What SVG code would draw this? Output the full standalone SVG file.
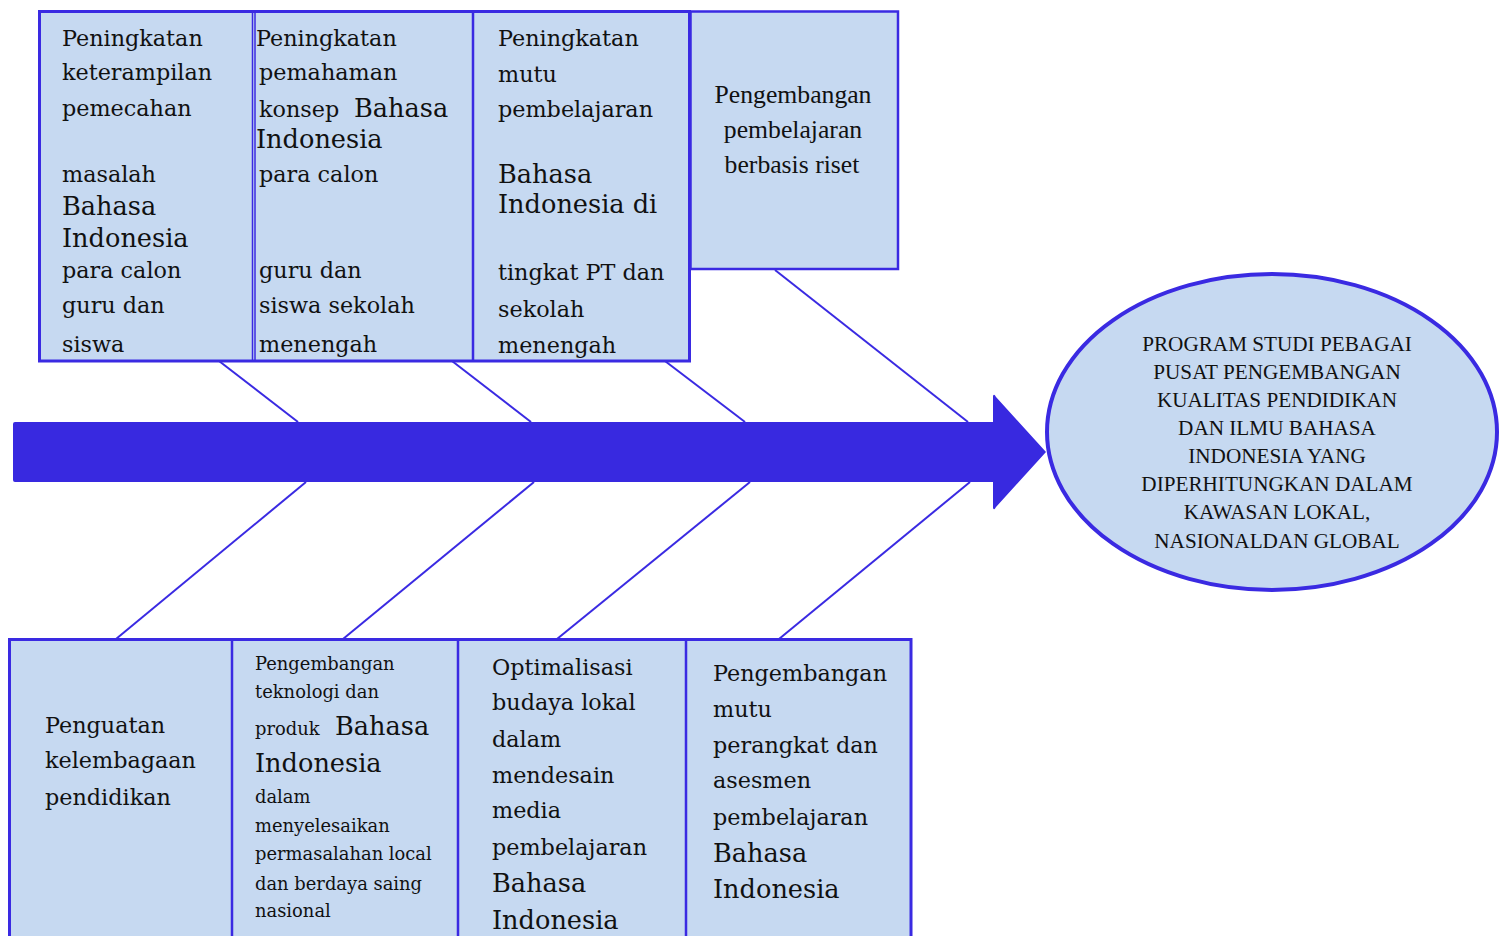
<svg xmlns="http://www.w3.org/2000/svg" width="1499" height="936" viewBox="0 0 1499 936">
<style>
.box{fill:#C6D9F1;stroke:#3A2AE2;stroke-width:3}
.div{stroke:#3A2AE2;stroke-width:2.5;fill:none}
.bone{stroke:#3A2AE2;stroke-width:2;fill:none}
.t{font-family:"DejaVu Serif","Liberation Serif",serif;font-size:22.3px;fill:#111}
.b{font-size:25.6px}
.s{font-size:17.9px}
.e{font-family:"Liberation Serif","Times New Roman",serif;font-size:21.2px;fill:#111;text-anchor:middle}
.r{font-family:"Liberation Serif","Times New Roman",serif;font-size:25.7px;fill:#111;text-anchor:middle}
</style>
<rect width="1499" height="936" fill="#fff"/>
<g id="connectors">
<line class="bone" x1="219" y1="361" x2="298" y2="422"/>
<line class="bone" x1="452" y1="361" x2="531" y2="422"/>
<line class="bone" x1="665" y1="361" x2="745" y2="422"/>
<line class="bone" x1="775" y1="270" x2="968" y2="422"/>
<line class="bone" x1="306" y1="482" x2="116" y2="639"/>
<line class="bone" x1="534" y1="482" x2="343" y2="639"/>
<line class="bone" x1="750" y1="482" x2="557" y2="639"/>
<line class="bone" x1="970" y1="482" x2="779" y2="639"/>
</g>
<g id="spine">
<path d="M15,422 H993 V396 Q994,393 996,397 L1046,452 L996,507 Q994,511 993,508 V482 H15 Q13,482 13,480 V424 Q13,422 15,422 Z" fill="#3829E0"/>
</g>
<g id="head">
<ellipse cx="1272" cy="432" rx="225" ry="158" fill="#C6D9F1" stroke="#3A2AE2" stroke-width="4"/>
<text class="e" x="1277" y="351">PROGRAM STUDI PEBAGAI</text>
<text class="e" x="1277" y="379">PUSAT PENGEMBANGAN</text>
<text class="e" x="1277" y="407">KUALITAS PENDIDIKAN</text>
<text class="e" x="1277" y="435">DAN ILMU BAHASA</text>
<text class="e" x="1277" y="463">INDONESIA YANG</text>
<text class="e" x="1277" y="491">DIPERHITUNGKAN DALAM</text>
<text class="e" x="1277" y="519">KAWASAN LOKAL,</text>
<text class="e" x="1277" y="548">NASIONALDAN GLOBAL</text>
</g>
<g id="top-frame">
<rect class="box" x="39.5" y="11.5" width="650" height="349.5"/>
<line x1="252.5" y1="12" x2="252.5" y2="360" stroke="#3A2AE2" stroke-width="1.5"/>
<line x1="255" y1="12" x2="255" y2="360" stroke="#3A2AE2" stroke-width="1.5"/>
<line class="div" x1="473" y1="12" x2="473" y2="360"/>
</g>
<g id="top1">
<text class="t" x="62" y="46">Peningkatan</text>
<text class="t" x="62" y="80">keterampilan</text>
<text class="t" x="62" y="116">pemecahan</text>
<text class="t" x="62" y="182">masalah</text>
<text class="t b" x="62" y="215">Bahasa</text>
<text class="t b" x="62" y="247">Indonesia</text>
<text class="t" x="62" y="278">para calon</text>
<text class="t" x="62" y="313">guru dan</text>
<text class="t" x="62" y="352">siswa</text>
</g>
<g id="top2">
<text class="t" x="256" y="46">Peningkatan</text>
<text class="t" x="259" y="80">pemahaman</text>
<text class="t" x="259" y="117">konsep</text>
<text class="t b" x="354" y="117">Bahasa</text>
<text class="t b" x="256" y="148">Indonesia</text>
<text class="t" x="259" y="182">para calon</text>
<text class="t" x="259" y="278">guru dan</text>
<text class="t" x="259" y="313">siswa sekolah</text>
<text class="t" x="259" y="352">menengah</text>
</g>
<g id="top3">
<text class="t" x="498" y="46">Peningkatan</text>
<text class="t" x="498" y="82">mutu</text>
<text class="t" x="498" y="117">pembelajaran</text>
<text class="t b" x="498" y="183">Bahasa</text>
<text class="t b" x="498" y="213">Indonesia di</text>
<text class="t" x="498" y="280">tingkat PT dan</text>
<text class="t" x="498" y="317">sekolah</text>
<text class="t" x="498" y="353">menengah</text>
</g>
<g id="top4">
<rect class="box" x="690.5" y="11.5" width="207.5" height="257.5" style="stroke-width:2.5"/>
<text class="r" x="793" y="103">Pengembangan</text>
<text class="r" x="793" y="138">pembelajaran</text>
<text class="r" x="792" y="173">berbasis riset</text>
</g>
<g id="bottom-frame">
<rect class="box" x="9.5" y="639.5" width="901.5" height="310"/>
<line class="div" x1="232" y1="640" x2="232" y2="936"/>
<line class="div" x1="458" y1="640" x2="458" y2="936"/>
<line class="div" x1="686" y1="640" x2="686" y2="936"/>
</g>
<g id="bot1">
<text class="t" x="45" y="733">Penguatan</text>
<text class="t" x="45" y="768">kelembagaan</text>
<text class="t" x="45" y="805">pendidikan</text>
</g>
<g id="bot2">
<text class="t s" x="255" y="670">Pengembangan</text>
<text class="t s" x="255" y="698">teknologi dan</text>
<text class="t s" x="255" y="735">produk</text>
<text class="t b" x="335" y="735">Bahasa</text>
<text class="t b" x="255" y="772">Indonesia</text>
<text class="t s" x="255" y="803">dalam</text>
<text class="t s" x="255" y="832">menyelesaikan</text>
<text class="t s" x="255" y="860">permasalahan local</text>
<text class="t s" x="255" y="890">dan berdaya saing</text>
<text class="t s" x="255" y="917">nasional</text>
</g>
<g id="bot3">
<text class="t" x="492" y="675">Optimalisasi</text>
<text class="t" x="492" y="710">budaya lokal</text>
<text class="t" x="492" y="747">dalam</text>
<text class="t" x="492" y="783">mendesain</text>
<text class="t" x="492" y="818">media</text>
<text class="t" x="492" y="855">pembelajaran</text>
<text class="t b" x="492" y="892">Bahasa</text>
<text class="t b" x="492" y="929">Indonesia</text>
</g>
<g id="bot4">
<text class="t" x="713" y="681">Pengembangan</text>
<text class="t" x="713" y="717">mutu</text>
<text class="t" x="713" y="753">perangkat dan</text>
<text class="t" x="713" y="788">asesmen</text>
<text class="t" x="713" y="825">pembelajaran</text>
<text class="t b" x="713" y="862">Bahasa</text>
<text class="t b" x="713" y="898">Indonesia</text>
</g>
</svg>
